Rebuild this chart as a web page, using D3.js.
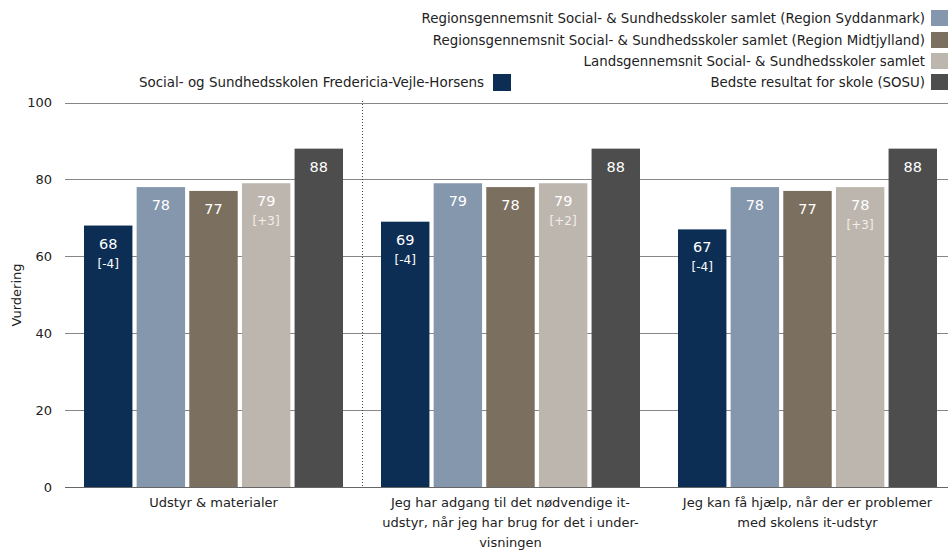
<!DOCTYPE html>
<html>
<head>
<meta charset="utf-8">
<script src="https://cdn.jsdelivr.net/npm/d3@7"></script>
<style>
  html, body { margin: 0; padding: 0; background: #fff; }
  svg { display: block; font-family: "DejaVu Sans", Verdana, sans-serif; }
</style>
</head>
<body>
<svg id="chart" width="948" height="552"></svg>
<script>
// Survey categories (multi-line axis labels)
const categories = [
  ["Udstyr & materialer"],
  ["Jeg har adgang til det nødvendige it-", "udstyr, når jeg har brug for det i under-", "visningen"],
  ["Jeg kan få hjælp, når der er problemer", "med skolens it-udstyr"]
];

const seriesNames = [
  "Social- og Sundhedsskolen Fredericia-Vejle-Horsens",
  "Regionsgennemsnit Social- & Sundhedsskoler samlet (Region Syddanmark)",
  "Regionsgennemsnit Social- & Sundhedsskoler samlet (Region Midtjylland)",
  "Landsgennemsnit Social- & Sundhedsskoler samlet",
  "Bedste resultat for skole (SOSU)"
];
const seriesColors = ["#0c2e55", "#8497ad", "#7b6f5f", "#bdb6ae", "#4d4d4d"];

// Ratings per series, one value per category
const schoolValues    = [68, 69, 67];
const syddanmark      = [78, 79, 78];
const midtjylland     = [77, 78, 77];
const landsgennemsnit = [79, 79, 78];
const bedste          = [88, 88, 88];

// Change versus previous measurement, shown under the value
const schoolDiffs = ["[-4]", "[-4]", "[-4]"];
const landDiffs   = ["[+3]", "[+2]", "[+3]"];

const yTicks = [0, 20, 40, 60, 80, 100];

const series = [schoolValues, syddanmark, midtjylland, landsgennemsnit, bedste];
const diffs = [schoolDiffs, null, null, landDiffs, null];

const svg = d3.select("#chart");

const x0 = d3.scaleBand().domain(d3.range(categories.length)).range([65, 956]).paddingInner(0).paddingOuter(0);
const x1 = d3.scaleBand().domain(d3.range(series.length)).range([19, 297 - 19]).paddingInner(0.08).paddingOuter(0);
const y = d3.scaleLinear().domain([0, 100]).range([487, 102.5]);

// Gridlines
svg.append("g")
  .selectAll("line")
  .data(yTicks.filter(d => d > 0))
  .join("line")
  .attr("x1", 65).attr("x2", 948)
  .attr("y1", d => Math.round(y(d)) + 0.5).attr("y2", d => Math.round(y(d)) + 0.5)
  .attr("stroke", "#878787").attr("stroke-width", 1.2);

// Y axis tick labels
const yAxis = d3.axisLeft(y).tickValues(yTicks).tickSize(0).tickPadding(13);
svg.append("g")
  .attr("transform", "translate(65,0)")
  .call(yAxis)
  .call(g => g.select(".domain").remove())
  .call(g => g.selectAll("text").attr("font-size", 13).attr("fill", "#222")
    .attr("font-family", "\"DejaVu Sans\", Verdana, sans-serif"));

// Y axis title
svg.append("text")
  .attr("transform", "translate(21,295) rotate(-90)")
  .attr("text-anchor", "middle")
  .attr("font-size", 13).attr("fill", "#222")
  .text("Vurdering");

// Dotted separator between first and second group
svg.append("line")
  .attr("x1", x0(1) + 0.5).attr("x2", x0(1) + 0.5)
  .attr("y1", 101).attr("y2", 487)
  .attr("stroke", "#444").attr("stroke-width", 1).attr("stroke-dasharray", "1,2");

// Bars
const groups = svg.append("g").selectAll("g")
  .data(categories)
  .join("g")
  .attr("transform", (d, i) => `translate(${x0(i)},0)`);

groups.each(function (cat, ci) {
  const g = d3.select(this);
  series.forEach((vals, si) => {
    const v = vals[ci];
    const bx = x1(si), bw = x1.bandwidth();
    g.append("rect")
      .attr("x", bx).attr("width", bw)
      .attr("y", y(v)).attr("height", y(0) - y(v))
      .attr("fill", seriesColors[si]);
    g.append("text")
      .attr("x", bx + bw / 2).attr("y", y(v) + 23)
      .attr("text-anchor", "middle")
      .attr("font-size", 14.5).attr("fill", "#fff")
      .text(v);
    if (diffs[si]) {
      g.append("text")
        .attr("x", bx + bw / 2).attr("y", y(v) + 42)
        .attr("text-anchor", "middle")
        .attr("font-size", 12)
        .attr("fill", si === 3 ? "#f2eeea" : "#fff")
        .text(diffs[si][ci]);
    }
  });
  // Category label
  g.append("text")
    .attr("text-anchor", "middle")
    .attr("font-size", 13).attr("fill", "#222")
    .selectAll("tspan")
    .data(cat)
    .join("tspan")
    .attr("x", x0.bandwidth() / 2)
    .attr("y", (d, i) => 507 + i * 20)
    .text(d => d);
});

// Baseline
svg.append("line")
  .attr("x1", 65).attr("x2", 948)
  .attr("y1", 487.5).attr("y2", 487.5)
  .attr("stroke", "#666").attr("stroke-width", 1.2);

// Legend: right column (series 2-5), left entry (series 1)
const legendRight = [1, 2, 3, 4];
const legendRows = [18, 40, 61, 82];
const lg = svg.append("g");
legendRight.forEach((si, r) => {
  lg.append("rect")
    .attr("x", 931).attr("y", legendRows[r] - 8).attr("width", 17).attr("height", 16)
    .attr("fill", seriesColors[si]);
  lg.append("text")
    .attr("x", 925).attr("y", legendRows[r] + 5)
    .attr("text-anchor", "end")
    .attr("font-size", 13.35).attr("fill", "#222")
    .text(seriesNames[si]);
});
lg.append("rect")
  .attr("x", 493).attr("y", 74).attr("width", 18).attr("height", 17)
  .attr("fill", seriesColors[0]);
lg.append("text")
  .attr("x", 484).attr("y", 87)
  .attr("text-anchor", "end")
  .attr("font-size", 13.45).attr("fill", "#222")
  .text(seriesNames[0]);
</script>
</body>
</html>
